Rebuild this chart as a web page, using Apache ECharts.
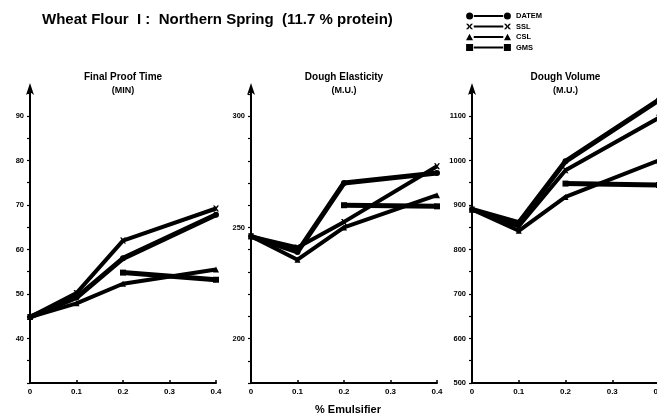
<!DOCTYPE html>
<html>
<head>
<meta charset="utf-8">
<script src="https://cdn.jsdelivr.net/npm/echarts@6/dist/echarts.min.js"></script>
<style>html,body{margin:0;padding:0;background:#fff}#c{width:657px;height:420px}</style>
</head>
<body>
<div id="c"></div>
<script>
// ---- data ----
const doses = [0, 0.1, 0.2, 0.4];
const gmsDoses = [0.2, 0.4];
const seriesNames = ['DATEM', 'SSL', 'CSL', 'GMS'];

const panelTitles = ['Final Proof Time', 'Dough Elasticity', 'Dough Volume'];
const panelUnits = ['(MIN)', '(M.U.)', '(M.U.)'];

// Final Proof Time (min)
const datemProof = [44.8, 49.2, 58.0, 67.8];
const sslProof = [44.8, 50.2, 62.0, 69.2];
const cslProof = [44.8, 47.9, 52.3, 55.5];
const gmsProof = [54.8, 53.2];
// Dough Elasticity (M.U.)
const datemElast = [246, 239, 270, 274.5];
const sslElast = [246, 241, 252.5, 277.5];
const cslElast = [246, 235.5, 250, 264.5];
const gmsElast = [260, 259.5];
// Dough Volume (M.U.)
const datemVol = [890, 860, 998, 1136];
const sslVol = [890, 852, 978, 1096];
const cslVol = [890, 842, 918, 1000];
const gmsVol = [948, 945];

// axis ticks / labels
const proofTicks = [30, 35, 40, 45, 50, 55, 60, 65, 70, 75, 80, 85, 90, 95];
const proofLabels = [40, 50, 60, 70, 80, 90];
const elastTicks = [180, 190, 200, 210, 220, 230, 240, 250, 260, 270, 280, 290, 300, 310];
const elastLabels = [200, 250, 300];
const volTicks = [500, 550, 600, 650, 700, 750, 800, 850, 900, 950, 1000, 1050, 1100, 1150];
const volLabels = [500, 600, 700, 800, 900, 1000, 1100];

// ---- layout ----
const FONT = 'Liberation Sans, Arial, sans-serif';
const grids = [
  {left: 30, top: 87, width: 186, height: 296, outerBoundsMode: 'none', containLabel: false},
  {left: 251, top: 87, width: 186, height: 296, outerBoundsMode: 'none', containLabel: false},
  {left: 472, top: 87, width: 187, height: 296, outerBoundsMode: 'none', containLabel: false}
];
const yRanges = [[30, 96.5], [180, 313.2], [500, 1165]];
const yTickSets = [proofTicks, elastTicks, volTicks];
const yLabelSets = [proofLabels, elastLabels, volLabels];
const panelData = [
  [datemProof, sslProof, cslProof, gmsProof],
  [datemElast, sslElast, cslElast, gmsElast],
  [datemVol, sslVol, cslVol, gmsVol]
];

const crossPath = 'path://M0,0L3,0L5,3L7,0L10,0L6.5,5L10,10L7,10L5,7L3,10L0,10L3.5,5Z';
const symbols = ['circle', crossPath, 'triangle', 'rect'];
const symSizes = [6, 6, 6, 6];
const widths = [5, 4, 4, 5];

const xAxes = grids.map((g, i) => ({
  type: 'value', gridIndex: i, min: 0, max: 0.4, interval: 0.1,
  axisLine: {lineStyle: {color: '#000', width: 2}},
  axisTick: {inside: true, length: 3, lineStyle: {color: '#000', width: 1.5}},
  splitLine: {show: false},
  axisLabel: {color: '#000', fontSize: 8, fontWeight: 'bold', fontFamily: FONT, margin: 5,
    formatter: v => (v === 0 ? '0' : v.toFixed(1))}
}));
const yAxes = grids.map((g, i) => ({
  type: 'value', gridIndex: i, min: yRanges[i][0], max: yRanges[i][1],
  axisLine: {show: true, lineStyle: {color: '#000', width: 2}, symbol: ['none', 'arrow'], symbolSize: [6, 12], symbolOffset: [0, 4]},
  axisTick: {show: true, length: 3, lineStyle: {color: '#000', width: 1.2}, customValues: yTickSets[i]},
  splitLine: {show: false},
  axisLabel: {color: '#000', fontSize: 7.5, fontWeight: 'bold', fontFamily: FONT, margin: 6,
    customValues: yLabelSets[i], formatter: v => String(v)}
}));

const series = [];
panelData.forEach((arrs, p) => {
  arrs.forEach((vals, s) => {
    const xs = s === 3 ? gmsDoses : doses;
    series.push({
      name: seriesNames[s], type: 'line', xAxisIndex: p, yAxisIndex: p,
      data: vals.map((v, k) => [xs[k], v]),
      symbol: symbols[s], symbolSize: symSizes[s], showSymbol: true,
      lineStyle: {color: '#000', width: widths[s]},
      itemStyle: {color: '#000'},
      z: 3, silent: true, animation: false
    });
  });
});

const legendIcons = [
  'path://M0,5A5,5,0,1,1,10,5A5,5,0,1,1,0,5Z M11,3.5H53V6.5H11Z M54,5A5,5,0,1,1,64,5A5,5,0,1,1,54,5Z',
  'path://M0,1L3,1L5,4L7,1L10,1L6.5,5L10,9L7,9L5,6L3,9L0,9L3.5,5Z M11,3.5H53V6.5H11Z M54,1L57,1L59,4L61,1L64,1L60.5,5L64,9L61,9L59,6L57,9L54,9L57.5,5Z',
  'path://M0,10L5,1L10,10Z M11,4H53V7H11Z M54,10L59,1L64,10Z',
  'path://M0,0H10V10H0Z M11,3.5H53V6.5H11Z M54,0H64V10H54Z'
];

const graphics = [
  {type: 'text', left: 42, top: 12, style: {text: 'Wheat Flour  I :  Northern Spring  (11.7 % protein)', font: 'bold 15px ' + FONT, fill: '#000'}},
  {type: 'text', x: 348, y: 404, style: {text: '% Emulsifier', font: 'bold 11px ' + FONT, fill: '#000', textAlign: 'center'}}
];
grids.forEach((g, i) => {
  const cx = g.left + g.width / 2;
  graphics.push({type: 'text', x: cx, y: 72, style: {text: panelTitles[i], font: 'bold 10px ' + FONT, fill: '#000', textAlign: 'center'}});
  graphics.push({type: 'text', x: cx, y: 86, style: {text: panelUnits[i], font: 'bold 9px ' + FONT, fill: '#000', textAlign: 'center'}});
});

const chart = echarts.init(document.getElementById('c'), null, {renderer: 'canvas'});
chart.setOption({
  animation: false,
  backgroundColor: '#fff',
  grid: grids,
  xAxis: xAxes,
  yAxis: yAxes,
  legend: {
    orient: 'vertical', left: 466, top: 12, padding: 0, itemGap: 2.5,
    itemWidth: 45, itemHeight: 7, selectedMode: false,
    textStyle: {color: '#000', fontSize: 7.5, fontWeight: 'bold', fontFamily: FONT},
    data: seriesNames.map((n, i) => ({name: n, icon: legendIcons[i], itemStyle: {color: '#000'}}))
  },
  graphic: graphics,
  series: series
});
</script>
</body>
</html>
